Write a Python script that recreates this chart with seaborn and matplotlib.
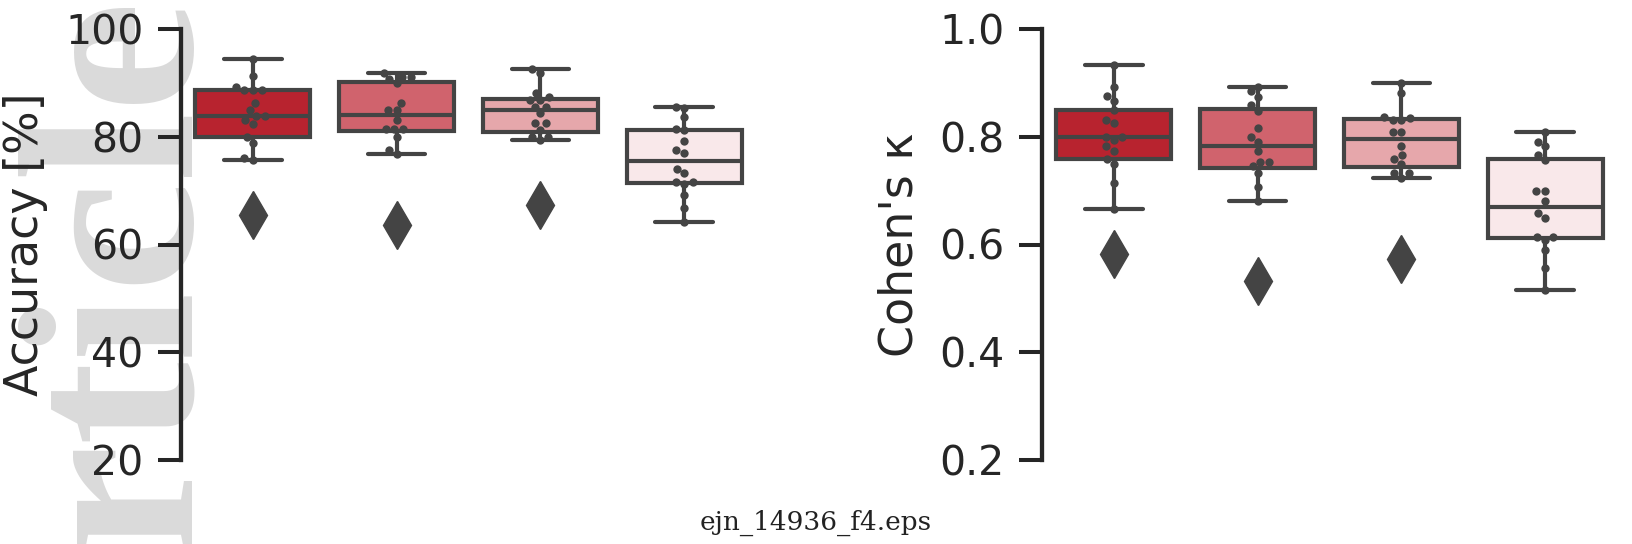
import numpy as np
import pandas as pd
import matplotlib
matplotlib.use("Agg")
import matplotlib.pyplot as plt
import seaborn as sns

# ---------------- data ----------------
conditions = ["C1", "C2", "C3", "C4"]

acc_c1 = [65.5, 75.6, 76.0, 78.9, 80.0, 82.4, 83.1, 83.85, 83.85, 85.0, 86.3,
          88.7, 88.7, 88.7, 89.3, 91.3, 94.4]
acc_c2 = [63.6, 76.8, 77.5, 79.9, 81.4, 81.4, 81.4, 83.1, 85.0, 85.0, 86.3,
          89.9, 90.7, 91.15, 91.15, 91.9]
acc_c3 = [67.3, 79.4, 80.0, 80.0, 81.25, 82.5, 82.5, 84.35, 85.6, 85.6, 86.9,
          86.9, 87.4, 88.2, 91.9, 92.5]
acc_c4 = [64.2, 66.7, 69.2, 71.2, 71.6, 71.6, 73.2, 74.0, 77.0, 77.6, 79.3,
          81.2, 81.5, 83.6, 85.3, 85.6]

kappa_c1 = [0.582, 0.665, 0.715, 0.749, 0.758, 0.774, 0.782, 0.794, 0.799,
            0.799, 0.825, 0.832, 0.850, 0.866, 0.876, 0.892, 0.933]
kappa_c2 = [0.533, 0.681, 0.707, 0.732, 0.745, 0.753, 0.753, 0.774, 0.791,
            0.800, 0.816, 0.848, 0.859, 0.874, 0.884, 0.892]
kappa_c3 = [0.573, 0.724, 0.732, 0.732, 0.749, 0.758, 0.766, 0.783, 0.808,
            0.808, 0.832, 0.832, 0.835, 0.837, 0.882, 0.900]
kappa_c4 = [0.5155, 0.557, 0.590, 0.609, 0.614, 0.614, 0.649, 0.658, 0.681,
            0.699, 0.699, 0.757, 0.766, 0.783, 0.791, 0.808]

acc_ticks = [20, 40, 60, 80, 100]
kappa_ticks = [0.2, 0.4, 0.6, 0.8, 1.0]

acc_label = "Accuracy [%]"
kappa_label = "Cohen's κ"
watermark = "Article"
footer = "ejn_14936_f4.eps"

palette = ["#b8232f", "#d0636d", "#e6a7ab", "#f9e8ea"]
line_col = "#444444"
axis_col = "#262626"


def long_frame(groups):
    return pd.DataFrame({
        "cond": np.repeat(conditions, [len(g) for g in groups]),
        "value": np.concatenate(groups),
    })


df_acc = long_frame([acc_c1, acc_c2, acc_c3, acc_c4])
df_kap = long_frame([kappa_c1, kappa_c2, kappa_c3, kappa_c4])

sns.set_theme(style="ticks")
plt.rcParams["font.family"] = ["DejaVu Sans"]

W, H = 1632, 544
fig = plt.figure(figsize=(W / 100, H / 100), dpi=100)

# watermark behind everything
fig.text(243 / W, 1.005, watermark, rotation=90, ha="right", va="top",
         fontsize=180, family=["Liberation Serif", "DejaVu Serif"],
         fontweight="bold", color="#dadada", zorder=-10)

ax1 = fig.add_axes([181 / W, 1 - 460 / H, 575 / W, 431 / H])
ax2 = fig.add_axes([1042 / W, 1 - 460 / H, 575 / W, 431 / H])


def draw(ax, df, ylim, ticks, label):
    ax.patch.set_alpha(0)
    sns.boxplot(data=df, x="cond", y="value", hue="cond", palette=palette,
                saturation=1, linecolor=line_col, linewidth=3, width=0.8,
                fliersize=24,
                flierprops=dict(marker="d", markerfacecolor=line_col,
                                markeredgecolor=line_col),
                legend=False, ax=ax)
    sns.swarmplot(data=df, x="cond", y="value", color=line_col, size=6, ax=ax)
    ax.set_ylim(*ylim)
    ax.set_yticks(ticks)
    ax.set_xticks([])
    ax.set_xlabel("")
    ax.set_ylabel(label, fontsize=33, labelpad=12, color=axis_col)
    sns.despine(ax=ax, bottom=True)
    ax.spines["left"].set_linewidth(3.1)
    ax.spines["left"].set_color(axis_col)
    ax.tick_params(axis="y", length=16.5, width=2.9, pad=10.5, labelsize=29.5,
                   color=axis_col, labelcolor=axis_col)


draw(ax1, df_acc, (20, 100), acc_ticks, acc_label)
draw(ax2, df_kap, (0.2, 1.0), kappa_ticks, kappa_label)

fig.text(0.5, 1 - 530 / H, footer, ha="center", va="baseline", fontsize=19,
         family="DejaVu Serif", color="#222222")

fig.savefig("out.png", dpi=100)
